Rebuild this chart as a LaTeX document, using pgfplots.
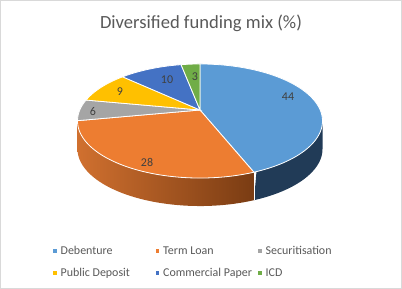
\documentclass[border=0pt]{standalone}
\usepackage{pgfplots}
\pgfplotsset{compat=1.18}
\usepackage{fontspec}
\setmainfont{Carlito}
\definecolor{cDeb}{HTML}{5B9BD5}
\definecolor{cTerm}{HTML}{ED7D31}
\definecolor{cSec}{HTML}{A5A5A5}
\definecolor{cPub}{HTML}{FFC000}
\definecolor{cCom}{HTML}{4472C4}
\definecolor{cICD}{HTML}{70AD47}
\definecolor{cDebS}{HTML}{213B57}
\definecolor{cTermSL}{HTML}{D0702F}
\definecolor{cTermSR}{HTML}{7A3C13}
\definecolor{txt}{HTML}{595959}
\definecolor{lab}{HTML}{404040}
\definecolor{frame}{HTML}{D9D9D9}
\newcommand\lent[1]{\makebox[91bp][l]{#1}}
\begin{document}
\begin{tikzpicture}[declare function={
  px(\t)=200+120.2*cos(\t)/(1+0.193*sin(\t));
  py(\t)=110-54.9*sin(\t)/(1+0.193*sin(\t));
  }]
% values (percent)
\def\vDeb{44}\def\vTerm{28}\def\vSec{6}\def\vPub{9}\def\vCom{10}\def\vICD{3}
\pgfmathsetmacro\aA{90}
\pgfmathsetmacro\aB{\aA-3.6*\vDeb}
\pgfmathsetmacro\aC{\aB-3.6*\vTerm}
\pgfmathsetmacro\aD{\aC-3.6*\vSec}
\pgfmathsetmacro\aE{\aD-3.6*\vPub}
\pgfmathsetmacro\aF{\aE-3.6*\vCom}
\pgfmathsetmacro\aG{\aF-3.6*\vICD}
\pgfmathsetmacro\eR{-asin(0.193)}
\pgfmathsetmacro\eL{-180+asin(0.193)}
\def\dep{28}
\begin{axis}[
  scale only axis, width=402bp, height=289bp,
  xmin=0, xmax=402, ymin=0, ymax=289, y dir=reverse,
  hide axis, clip=false,
  legend columns=3,
  legend image code/.code={\fill[#1, draw=none] (0bp,-1.75bp) rectangle (3.5bp,1.75bp);},
  legend style={at={(axis cs:50,243)}, anchor=north west, draw=none, fill=none,
    font=\fontsize{12}{14}\selectfont, text=txt,
    row sep=10bp, column sep=4bp,
    nodes={inner sep=0pt, text height=9bp, text depth=3bp},
    cells={anchor=west}},
]
% side walls
\addplot[draw=none, fill=cDebS, samples at={0,0.02,...,1,1.00001,1.02,1.04,...,2}, forget plot]
 ({px(ifthenelse(x<1.000005, \eR+x*(\aB-\eR), \aB-(x-1)*(\aB-\eR)))},
  {py(ifthenelse(x<1.000005, \eR+x*(\aB-\eR), \aB-(x-1)*(\aB-\eR)))+ifthenelse(x<1.000005,0,\dep)}) -- cycle;
\addplot[draw=none, left color=cTermSL, right color=cTermSR, samples at={0,0.02,...,1,1.00001,1.02,1.04,...,2}, forget plot]
 ({px(ifthenelse(x<1.000005, \aB+x*(\eL-\aB), \eL-(x-1)*(\eL-\aB)))},
  {py(ifthenelse(x<1.000005, \aB+x*(\eL-\aB), \eL-(x-1)*(\eL-\aB)))+ifthenelse(x<1.000005,0,\dep)}) -- cycle;
\addplot[white, line width=0.8bp, domain=0:\dep, samples=2, forget plot] ({px(\aB)},{py(\aB)+x});
% top faces
\addplot[fill=cDeb, draw=white, line width=0.8bp, domain=\aB:\aA, samples=80, forget plot] ({px(x)},{py(x)}) -- (axis cs:200,110) -- cycle;
\addplot[fill=cTerm, draw=white, line width=0.8bp, domain=\aC:\aB, samples=60, forget plot] ({px(x)},{py(x)}) -- (axis cs:200,110) -- cycle;
\addplot[fill=cSec, draw=white, line width=0.8bp, domain=\aD:\aC, samples=20, forget plot] ({px(x)},{py(x)}) -- (axis cs:200,110) -- cycle;
\addplot[fill=cPub, draw=white, line width=0.8bp, domain=\aE:\aD, samples=20, forget plot] ({px(x)},{py(x)}) -- (axis cs:200,110) -- cycle;
\addplot[fill=cCom, draw=white, line width=0.8bp, domain=\aF:\aE, samples=20, forget plot] ({px(x)},{py(x)}) -- (axis cs:200,110) -- cycle;
\addplot[fill=cICD, draw=white, line width=0.8bp, domain=\aG:\aF, samples=10, forget plot] ({px(x)},{py(x)}) -- (axis cs:200,110) -- cycle;
% data labels
\begin{scope}[font=\fontsize{12}{14}\selectfont, text=lab]
\node at (axis cs:288,97) {44};
\node at (axis cs:147,162) {28};
\node at (axis cs:93,112) {6};
\node at (axis cs:120,92) {9};
\node at (axis cs:167,80) {10};
\node at (axis cs:195,77) {3};
\end{scope}
% title
\node[font=\fontsize{18.67}{22}\selectfont, text=txt] at (axis cs:201,23) {Diversified funding mix (\%)};
% frame
\draw[frame, line width=1bp] (axis cs:0.5,0.5) rectangle (axis cs:401.5,288.5);
% legend
\addlegendimage{fill=cDeb}\addlegendentry{\lent{Debenture}}
\addlegendimage{fill=cTerm}\addlegendentry{\lent{Term Loan}}
\addlegendimage{fill=cSec}\addlegendentry{Securitisation}
\addlegendimage{fill=cPub}\addlegendentry{\lent{Public Deposit}}
\addlegendimage{fill=cCom}\addlegendentry{\lent{Commercial Paper}}
\addlegendimage{fill=cICD}\addlegendentry{ICD}
\end{axis}
\end{tikzpicture}
\end{document}
